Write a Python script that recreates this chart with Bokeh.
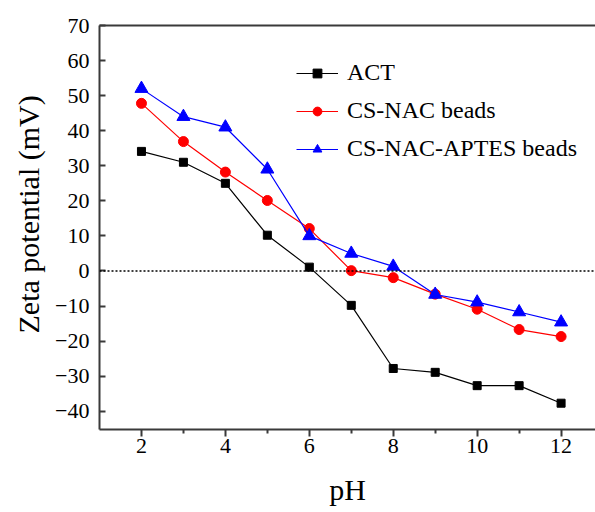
from bokeh.plotting import figure
from bokeh.models import Span, LinearAxis, Legend, FixedTicker, Range1d, Title
from bokeh.embed import file_html
from bokeh.resources import INLINE

ph = [2, 3, 4, 5, 6, 7, 8, 9, 10, 11, 12]
act = [34.1, 31.0, 25.0, 10.2, 1.1, -9.8, -27.8, -28.9, -32.7, -32.7, -37.7]
cs_nac = [47.8, 36.9, 28.2, 20.1, 12.1, 0.1, -1.9, -6.6, -10.9, -16.7, -18.7]
cs_nac_aptes = [52.0, 44.0, 41.0, 29.0, 10.0, 5.0, 1.3, -6.7, -8.9, -11.7, -14.6]
x_ticks = [2, 4, 6, 8, 10, 12]
x_minor = [3, 5, 7, 9, 11]
y_ticks = [-40, -30, -20, -10, 0, 10, 20, 30, 40, 50, 60, 70]

FONT = "Liberation Serif"

p = figure(width=595, height=512, output_backend="svg", toolbar_location=None,
           x_range=Range1d(1.0, 12.82), y_range=Range1d(-45.2, 70),
           min_border_left=99, min_border_top=25, min_border_right=0, min_border_bottom=83)
p.outline_line_color = None
p.grid.visible = False
p.background_fill_color = "white"

xa = p.below[0]
ya = p.left[0]
xa.ticker = FixedTicker(ticks=x_ticks, minor_ticks=x_minor)
ya.ticker = FixedTicker(ticks=y_ticks)

for ax in (xa, ya):
    ax.axis_line_color = "#3a3a3a"
    ax.axis_line_width = 2
    ax.major_tick_line_color = "#3a3a3a"
    ax.major_tick_line_width = 2
    ax.minor_tick_line_color = "#3a3a3a"
    ax.minor_tick_line_width = 2
    ax.major_label_text_font = FONT
    ax.major_label_text_font_size = "22px"
    ax.major_label_text_color = "black"
    ax.axis_label_text_font = FONT
    ax.axis_label_text_font_size = "30px"
    ax.axis_label_text_font_style = "normal"
    ax.axis_label_text_color = "black"

xa.axis_label = "pH"
xa.major_tick_in = 0
xa.major_tick_out = 7
xa.minor_tick_in = 0
xa.minor_tick_out = 4
xa.major_label_standoff = 2
xa.axis_label_standoff = 17

ya.major_tick_in = 6
ya.major_tick_out = 0
ya.minor_tick_line_color = None
ya.major_label_standoff = 10

# y axis title, placed off-centre as in the original
ytitle = Title(text="Zeta potential (mV)", align="left", offset=96, standoff=15,
               text_font=FONT, text_font_size="30px", text_font_style="normal",
               text_color="black")
p.add_layout(ytitle, "left")

# top frame line
top = LinearAxis(ticker=FixedTicker(ticks=[]), major_label_text_font_size="0px",
                 axis_line_color="#3a3a3a", axis_line_width=2,
                 major_tick_line_color=None, minor_tick_line_color=None)
p.add_layout(top, "above")

p.add_layout(Span(location=0, dimension="width", line_color="black",
                  line_dash="2 2", line_width=1.5))

r1 = p.line(ph, act, line_color="black", line_width=1.2)
s1 = p.scatter(ph, act, marker="square", size=8, color="black")
r2 = p.line(ph, cs_nac, line_color="#ff0000", line_width=1.2)
s2 = p.scatter(ph, cs_nac, marker="circle", size=10, color="#ff0000")
r3 = p.line(ph, cs_nac_aptes, line_color="#0000ff", line_width=1.2)
s3 = p.scatter(ph, cs_nac_aptes, marker="triangle", size=13, color="#0000ff")

legend = Legend(items=[("ACT", [r1, s1]), ("CS-NAC beads", [r2, s2]),
                       ("CS-NAC-APTES beads", [r3, s3])],
                location=(197, 267), padding=0, margin=0,
                border_line_color=None, background_fill_alpha=0,
                label_text_font=FONT, label_text_font_size="24px",
                label_text_color="black", glyph_width=42, glyph_height=22,
                label_height=22, label_standoff=9, spacing=11)
p.add_layout(legend)

open("out.html", "w").write(file_html(p, INLINE))
